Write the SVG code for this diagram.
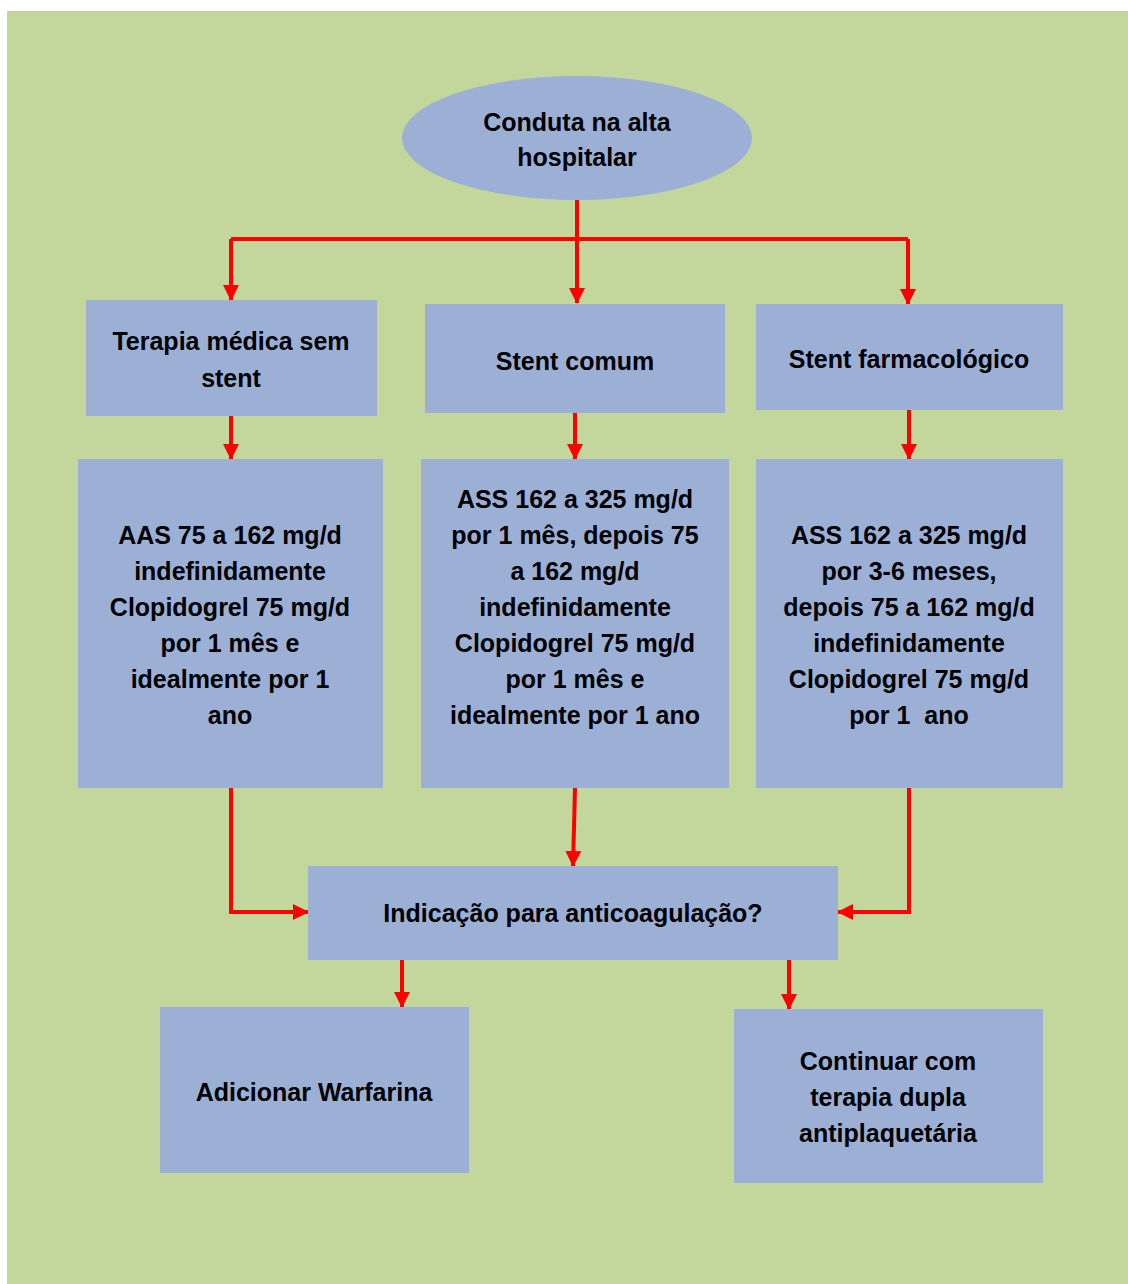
<svg xmlns="http://www.w3.org/2000/svg" width="1128" height="1284" viewBox="0 0 1128 1284">
<style>
.bg{fill:#C3D69B}
.n{fill:#9CB0D6}
.t{font-family:"Liberation Sans",Arial,sans-serif;font-weight:bold;font-size:25px;fill:#000;text-anchor:middle}
.c{fill:none;stroke:#FF0000;stroke-width:4;marker-end:url(#ah)}
.l{fill:none;stroke:#FF0000;stroke-width:4}
</style>
<defs>
<marker id="ah" markerUnits="userSpaceOnUse" markerWidth="16" markerHeight="16" viewBox="0 0 16 16" refX="15" refY="8" orient="auto">
<path d="M0,0 L16,8 L0,16 Z" fill="#FF0000"/>
</marker>
</defs>
<rect x="0" y="0" width="1128" height="1284" fill="#FFFFFF"/>
<rect class="bg" x="7" y="11" width="1121" height="1273"/>

<g id="connectors">
<path class="l" d="M231,239 H908"/>
<path class="c" d="M577,200 V303"/>
<path class="c" d="M231,239 V300"/>
<path class="c" d="M908,239 V304"/>
<path class="c" d="M231,416 V459"/>
<path class="c" d="M575,413 V459"/>
<path class="c" d="M909,410 V459"/>
<path class="c" d="M231,788 V912 H308"/>
<path class="c" d="M575,788 L573,866"/>
<path class="c" d="M909,788 V912 H838"/>
<path class="c" d="M402,960 V1007"/>
<path class="c" d="M789,960 V1009"/>
</g>

<g id="start">
<ellipse class="n" cx="577" cy="138" rx="175" ry="62"/>
<text class="t" x="577" y="131">Conduta na alta</text>
<text class="t" x="577" y="166">hospitalar</text>
</g>

<g id="terapia">
<rect class="n" x="86" y="300" width="291" height="116"/>
<text class="t" x="231" y="350">Terapia médica sem</text>
<text class="t" x="231" y="387">stent</text>
</g>

<g id="stent-comum">
<rect class="n" x="425" y="304" width="300" height="109"/>
<text class="t" x="575" y="370">Stent comum</text>
</g>

<g id="stent-farm">
<rect class="n" x="756" y="304" width="307" height="106"/>
<text class="t" x="909" y="368">Stent farmacológico</text>
</g>

<g id="presc-1">
<rect class="n" x="78" y="459" width="305" height="329"/>
<text class="t" x="230" y="544">AAS 75 a 162 mg/d</text>
<text class="t" x="230" y="580">indefinidamente</text>
<text class="t" x="230" y="616">Clopidogrel 75 mg/d</text>
<text class="t" x="230" y="652">por 1 mês e</text>
<text class="t" x="230" y="688">idealmente por 1</text>
<text class="t" x="230" y="724">ano</text>
</g>

<g id="presc-2">
<rect class="n" x="421" y="459" width="308" height="329"/>
<text class="t" x="575" y="508">ASS 162 a 325 mg/d</text>
<text class="t" x="575" y="544">por 1 mês, depois 75</text>
<text class="t" x="575" y="580">a 162 mg/d</text>
<text class="t" x="575" y="616">indefinidamente</text>
<text class="t" x="575" y="652">Clopidogrel 75 mg/d</text>
<text class="t" x="575" y="688">por 1 mês e</text>
<text class="t" x="575" y="724">idealmente por 1 ano</text>
</g>

<g id="presc-3">
<rect class="n" x="756" y="459" width="307" height="329"/>
<text class="t" x="909" y="544">ASS 162 a 325 mg/d</text>
<text class="t" x="909" y="580">por 3-6 meses,</text>
<text class="t" x="909" y="616">depois 75 a 162 mg/d</text>
<text class="t" x="909" y="652">indefinidamente</text>
<text class="t" x="909" y="688">Clopidogrel 75 mg/d</text>
<text class="t" x="909" y="724" xml:space="preserve" style="white-space:pre">por 1  ano</text>
</g>

<g id="anticoag">
<rect class="n" x="308" y="866" width="530" height="94"/>
<text class="t" x="573" y="922">Indicação para anticoagulação?</text>
</g>

<g id="warfarina">
<rect class="n" x="160" y="1007" width="309" height="166"/>
<text class="t" x="314" y="1101">Adicionar Warfarina</text>
</g>

<g id="dupla">
<rect class="n" x="734" y="1009" width="309" height="174"/>
<text class="t" x="888" y="1070">Continuar com</text>
<text class="t" x="888" y="1106">terapia dupla</text>
<text class="t" x="888" y="1142">antiplaquetária</text>
</g>
</svg>
